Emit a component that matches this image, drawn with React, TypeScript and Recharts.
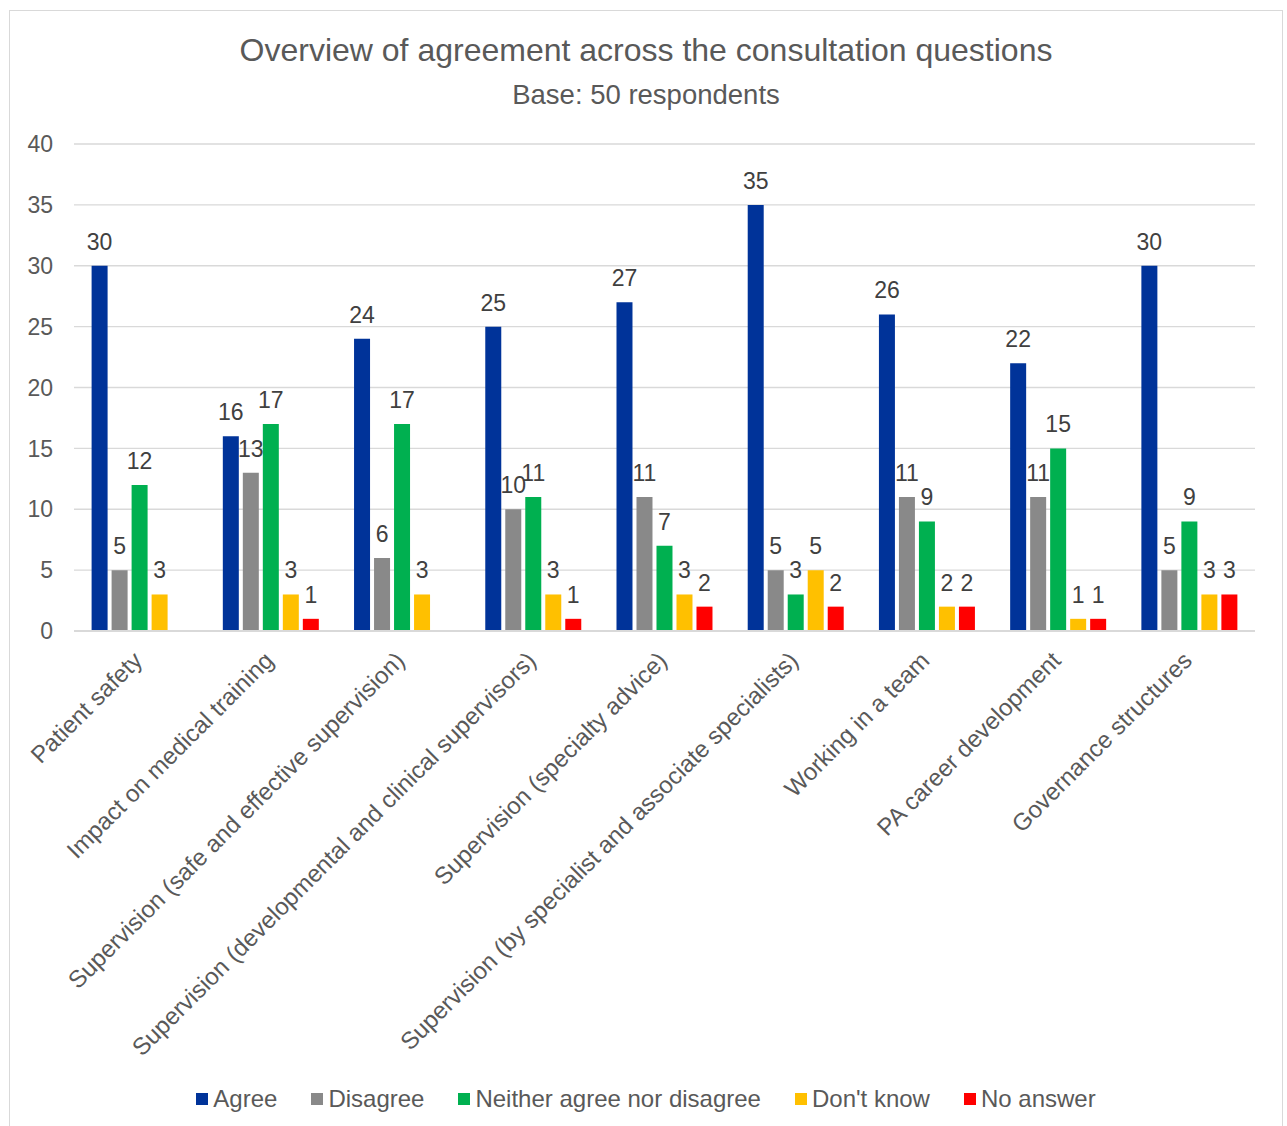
import { BarChart, Bar, XAxis, YAxis, CartesianGrid, Legend, LabelList } from 'recharts';

const questions = [
  'Patient safety',
  'Impact on medical training',
  'Supervision (safe and effective supervision)',
  'Supervision (developmental and clinical supervisors)',
  'Supervision (specialty advice)',
  'Supervision (by specialist and associate specialists)',
  'Working in a team',
  'PA career development',
  'Governance structures',
];

const agree = [30, 16, 24, 25, 27, 35, 26, 22, 30];
const disagree = [5, 13, 6, 10, 11, 5, 11, 11, 5];
const neither = [12, 17, 17, 11, 7, 3, 9, 15, 9];
const dontKnow = [3, 3, 3, 3, 3, 5, 2, 1, 3];
const noAnswer = [0, 1, 0, 1, 2, 2, 2, 1, 3];

const yTicks = [0, 5, 10, 15, 20, 25, 30, 35, 40];

const series = [
  { key: 'agree', name: 'Agree', color: '#003399' },
  { key: 'disagree', name: 'Disagree', color: '#898989' },
  { key: 'neither', name: 'Neither agree nor disagree', color: '#00B050' },
  { key: 'dontKnow', name: "Don't know", color: '#FFC000' },
  { key: 'noAnswer', name: 'No answer', color: '#FF0000' },
];

const data = questions.map((q, i) => ({
  question: q,
  agree: agree[i],
  disagree: disagree[i],
  neither: neither[i],
  dontKnow: dontKnow[i],
  noAnswer: noAnswer[i],
}));

const FONT = '"Liberation Sans", Arial, sans-serif';

function QuestionTick(props: any) {
  const { x, y, payload } = props;
  const bx = x + 4;
  const by = y + 31;
  return (
    <text
      x={bx}
      y={by}
      textAnchor="end"
      fill="#595959"
      fontSize={24}
      fontFamily={FONT}
      transform={`rotate(-45, ${bx}, ${by})`}
    >
      {payload.value}
    </text>
  );
}

function LegendRow() {
  return (
    <div
      style={{
        display: 'flex',
        justifyContent: 'center',
        alignItems: 'center',
        height: 30,
        fontFamily: FONT,
        fontSize: 24,
        color: '#595959',
      }}
    >
      {series.map((s) => (
        <div key={s.key} style={{ display: 'flex', alignItems: 'center', margin: '0 17px' }}>
          <span style={{ width: 12, height: 12, background: s.color, marginRight: 5 }} />
          <span style={{ lineHeight: '30px' }}>{s.name}</span>
        </div>
      ))}
    </div>
  );
}

export default function App() {
  return (
    <div
      style={{
        position: 'absolute',
        left: 9,
        top: 10,
        width: 1272,
        height: 1130,
        border: '1px solid #d9d9d9',
        background: '#fff',
        fontFamily: FONT,
      }}
    >
      <div
        style={{
          position: 'absolute',
          top: 23,
          left: 0,
          width: 1272,
          textAlign: 'center',
          fontSize: 32,
          lineHeight: '32px',
          color: '#595959',
        }}
      >
        Overview of agreement across the consultation questions
      </div>
      <div
        style={{
          position: 'absolute',
          top: 70,
          left: 0,
          width: 1272,
          textAlign: 'center',
          fontSize: 27.5,
          lineHeight: '27px',
          color: '#595959',
        }}
      >
        Base: 50 respondents
      </div>
      <BarChart
        width={1272}
        height={1115}
        data={data}
        margin={{ top: 133, right: 27, left: 0, bottom: 0 }}
        barCategoryGap={17.6}
        barGap={4}
      >
        <CartesianGrid vertical={false} stroke="#d9d9d9" strokeWidth={1.3} />
        <XAxis
          dataKey="question"
          interval={0}
          height={465}
          tickLine={false}
          tickSize={0}
          tickMargin={0}
          axisLine={{ stroke: '#d9d9d9', strokeWidth: 2 }}
          tick={<QuestionTick />}
        />
        <YAxis
          width={64}
          domain={[0, 40]}
          ticks={yTicks}
          axisLine={false}
          tickLine={false}
          tickSize={0}
          tickMargin={21}
          tick={{ fill: '#595959', fontSize: 23, fontFamily: FONT }}
        />
        <Legend
          verticalAlign="bottom"
          content={<LegendRow />}
          wrapperStyle={{ top: 1073, left: 0, width: 1272 }}
        />
        {series.map((s) => (
          <Bar key={s.key} dataKey={s.key} name={s.name} fill={s.color} isAnimationActive={false}>
            <LabelList
              dataKey={s.key}
              position="top"
              offset={16}
              fill="#404040"
              fontSize={23}
              fontFamily={FONT}
              formatter={(v: any) => (v === 0 ? '' : v)}
            />
          </Bar>
        ))}
      </BarChart>
    </div>
  );
}
